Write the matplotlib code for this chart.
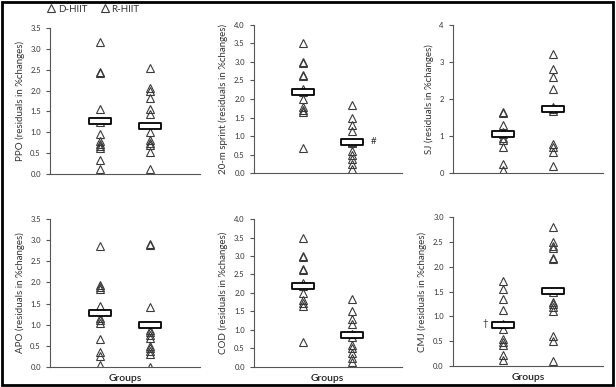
import matplotlib.pyplot as plt
from matplotlib.patches import Rectangle
from matplotlib.path import Path
from matplotlib.lines import Line2D

plt.rcParams['font.family'] = ['Lato', 'DejaVu Sans']

GROUPS = ["D-HIIT", "R-HIIT"]

ppo_d = [3.15, 2.45, 2.43, 1.55, 1.25, 0.95, 0.80, 0.72, 0.68, 0.62, 0.33, 0.12]
ppo_r = [2.55, 2.05, 2.00, 1.82, 1.55, 1.45, 1.00, 0.82, 0.75, 0.70, 0.52, 0.12]
ppo_mean = [1.28, 1.15]

spr_d = [3.50, 3.00, 2.98, 2.65, 2.62, 2.28, 2.20, 2.00, 1.80, 1.70, 1.65, 0.68]
spr_r = [1.85, 1.50, 1.30, 1.15, 0.85, 0.82, 0.60, 0.50, 0.38, 0.25, 0.12]
spr_mean = [2.20, 0.85]

sj_d = [1.65, 1.62, 1.30, 1.12, 1.05, 0.95, 0.90, 0.72, 0.25, 0.10]
sj_r = [3.20, 2.80, 2.60, 2.28, 1.80, 1.72, 1.68, 0.80, 0.70, 0.58, 0.20]
sj_mean = [1.06, 1.73]

apo_d = [2.85, 1.95, 1.90, 1.85, 1.45, 1.15, 1.10, 1.05, 0.65, 0.35, 0.25, 0.05]
apo_r = [2.90, 2.88, 1.42, 0.88, 0.82, 0.75, 0.68, 0.50, 0.45, 0.38, 0.30, 0.00]
apo_mean = [1.27, 1.00]

cod_d = [3.50, 3.00, 2.98, 2.65, 2.62, 2.28, 2.20, 2.00, 1.80, 1.72, 1.65, 0.68]
cod_r = [1.85, 1.50, 1.30, 1.15, 0.88, 0.82, 0.60, 0.50, 0.38, 0.25, 0.12]
cod_mean = [2.20, 0.85]

cmj_d = [1.72, 1.55, 1.35, 1.12, 0.85, 0.75, 0.55, 0.48, 0.42, 0.22, 0.12]
cmj_r = [2.80, 2.50, 2.42, 2.38, 2.18, 2.15, 1.50, 1.30, 1.25, 1.18, 1.10, 0.60, 0.50, 0.10]
cmj_mean = [0.83, 1.52]

TXT = '#333333'
EDGE = '#3a3a3a'

# wide flat box used for the group means
box = Path([(-1, -0.3), (1, -0.3), (1, 0.3), (-1, 0.3), (-1, -0.3)],
           [Path.MOVETO, Path.LINETO, Path.LINETO, Path.LINETO, Path.CLOSEPOLY])

panels = [
    # name, d, r, mean, ymax, step, fmt, rect, mark
    ("PPO", ppo_d, ppo_r, ppo_mean, 3.5, 0.5, "%.1f", [0.081, 0.550, 0.2435, 0.378], None),
    ("20-m sprint", spr_d, spr_r, spr_mean, 4.0, 0.5, "%.1f", [0.412, 0.552, 0.240, 0.384], ("#", 2.42, 0.87)),
    ("SJ", sj_d, sj_r, sj_mean, 4, 1, "%d", [0.735, 0.552, 0.2435, 0.384], None),
    ("APO", apo_d, apo_r, apo_mean, 3.5, 0.5, "%.1f", [0.081, 0.052, 0.2435, 0.382], None),
    ("COD", cod_d, cod_r, cod_mean, 4.0, 0.5, "%.1f", [0.412, 0.052, 0.240, 0.382], None),
    ("CMJ", cmj_d, cmj_r, cmj_mean, 3.0, 0.5, "%.1f", [0.735, 0.054, 0.2435, 0.385], ("\u2020", 0.65, 0.86)),
]

fig = plt.figure(figsize=(6.16, 3.87), dpi=100)

for i, (name, d, r, mean, ymax, step, fmt, rect, mark) in enumerate(panels):
    ax = fig.add_axes(rect)
    for x, vals in [(1, d), (2, r)]:
        ax.plot([x] * len(vals), vals, linestyle='none', marker='^', markersize=5.5,
                markerfacecolor='none', markeredgecolor=EDGE, markeredgewidth=0.8, zorder=2)
    ax.plot([1, 2], mean, linestyle='none', marker=box, markersize=16,
            markerfacecolor='white', markeredgecolor='black', markeredgewidth=1.3, zorder=3)
    if mark:
        ax.text(mark[1], mark[2], mark[0], fontsize=7, color=TXT, va='center', ha='center')
    ax.set_xlim(0, 3)
    ax.set_ylim(0, ymax)
    n = int(round(ymax / step))
    ticks = [k * step for k in range(n + 1)]
    ax.set_yticks(ticks)
    ax.set_yticklabels([fmt % t for t in ticks])
    ax.set_xticks([])
    ax.spines['top'].set_visible(False)
    ax.spines['right'].set_visible(False)
    ax.spines['left'].set_color('#555555')
    ax.spines['bottom'].set_color('#555555')
    ax.tick_params(axis='y', labelsize=5.5, labelcolor=TXT, color='#555555', length=3, width=0.8)
    ax.set_ylabel(name + " (residuals in %changes)", fontsize=7, color=TXT, labelpad=4)
    if i >= 3:
        ax.set_xlabel("Groups", fontsize=7.5, color='#222222', labelpad=5, fontweight='semibold')

handles = [Line2D([], [], linestyle='none', marker='^', markersize=5.5, markerfacecolor='none',
                  markeredgecolor=EDGE, markeredgewidth=0.8) for g in GROUPS]
fig.legend(handles, GROUPS, loc='upper left', bbox_to_anchor=(0.062, 1.01), ncol=2, frameon=False,
           fontsize=7, handletextpad=0.3, columnspacing=1.4, handlelength=0.8, labelcolor=TXT)

fig.add_artist(Rectangle((0.003, 0.004), 0.992, 0.992, transform=fig.transFigure,
                         fill=False, edgecolor='black', linewidth=2))

fig.savefig("out.png", dpi=100, facecolor='white')
